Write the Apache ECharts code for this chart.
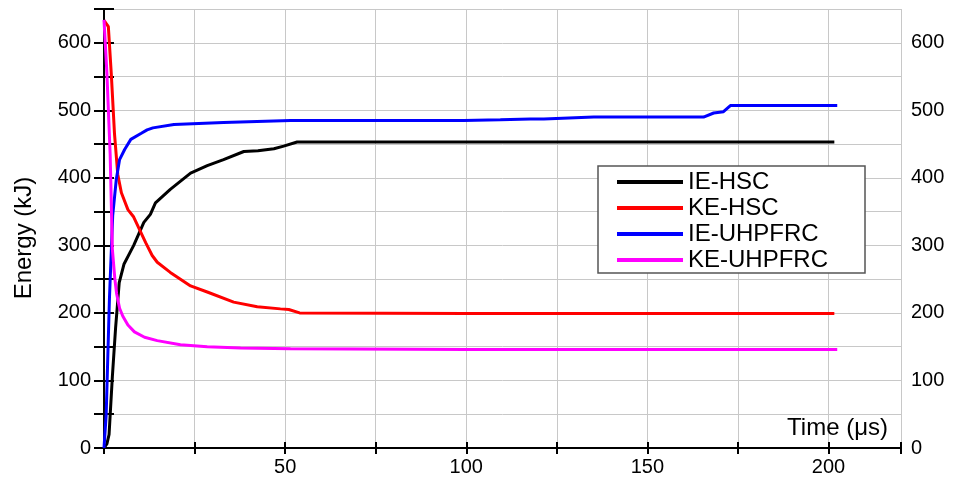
<!DOCTYPE html>
<html>
<head>
<meta charset="utf-8">
<title>Energy vs Time</title>
<script src="https://cdn.jsdelivr.net/npm/echarts@6/dist/echarts.min.js"></script>
<style>
  html, body { margin: 0; padding: 0; background: #fff; }
  #chart { width: 956px; height: 477px; }
</style>
</head>
<body>
<div id="chart"></div>
<script>
// series names
const seriesNames = ['IE-HSC', 'KE-HSC', 'IE-UHPFRC', 'KE-UHPFRC'];

// IE-HSC (internal energy, HSC slab)
const ieHscTime   = [0, 0.8, 1.4, 2.3, 3.2, 4.2, 5.5, 8.2, 11, 12.8, 14.2, 18.3, 23.9, 28.5, 33, 38.6, 42.5, 46.9, 49.6, 53.3, 100, 150, 201.6];
const ieHscEnergy = [0, 6, 20, 105, 178, 245, 272, 300, 334, 346, 363, 383, 407, 418, 427, 439, 440, 443, 447, 453, 453, 453, 453];

// KE-HSC (kinetic energy, HSC slab)
const keHscTime   = [0, 1.2, 2.0, 2.9, 3.8, 4.8, 6.6, 8.2, 11.5, 13.3, 14.7, 18.3, 23.9, 28.5, 35.8, 42.3, 48.7, 51, 54, 100, 150, 201.6];
const keHscEnergy = [633, 624, 555, 465, 405, 378, 353, 342, 304, 285, 275, 260, 240, 231, 216, 209, 206, 205, 200, 199, 199, 199];

// IE-UHPFRC
const ieUhpTime   = [0, 0.6, 1.5, 2.4, 3.4, 4.3, 5.7, 7.4, 10.3, 11.9, 13.5, 19.3, 33, 51.5, 74.4, 99.3, 109.4, 117.7, 121.4, 135.2, 165.5, 168.3, 171, 172.9, 202.4];
const ieUhpEnergy = [0, 49, 221, 344, 398, 427, 442, 457, 466, 471, 474, 479, 482, 485, 485, 485, 486, 487, 487, 490, 490, 496, 498, 507, 507];

// KE-UHPFRC
const keUhpTime   = [0, 0.8, 1.7, 2.3, 3.0, 3.5, 4.3, 5.2, 6.6, 8.4, 11.2, 14.7, 21.1, 28.5, 37.7, 51.5, 100, 150, 202.4];
const keUhpEnergy = [634, 555, 435, 295, 250, 228, 207, 195, 182, 172, 164, 159, 153, 150, 148, 147, 146, 146, 146];

const seriesColors = ['#000000', '#ff0000', '#0000ff', '#ff00ff'];

// axis ranges / tick steps
const xMin = 0, xMax = 220, xStep = 25, xLabelStep = 50;
const yMin = 0, yMax = 650, yStep = 50, yLabelStep = 100;

const FONT = "'Liberation Sans', Arial, sans-serif";

function zip(ts, es) {
    return ts.map((t, i) => [t, es[i]]);
}

const chart = echarts.init(document.getElementById('chart'), null, { renderer: 'canvas' });

const yLabelFmt = v => (v % yLabelStep === 0 && v <= 600 ? String(v) : '');

const option = {
    animation: false,
    backgroundColor: '#ffffff',
    textStyle: { fontFamily: FONT },
    grid: { left: 104, right: 55, top: 9, bottom: 27 },
    legend: {
        data: seriesNames,
        orient: 'vertical',
        left: 598,
        top: 166,
        icon: 'rect',
        itemWidth: 66,
        itemHeight: 4,
        itemGap: 2,
        padding: [4, 37, 1, 19],
        backgroundColor: '#ffffff',
        borderColor: '#555555',
        borderWidth: 1.5,
        borderRadius: 0,
        textStyle: { fontSize: 24, lineHeight: 24, color: '#000', fontFamily: FONT }
    },
    graphic: [
        {
            type: 'text',
            x: 888, y: 428,
            style: {
                text: 'Time (μs)',
                font: '24px ' + FONT,
                fill: '#000',
                align: 'right',
                verticalAlign: 'middle'
            },
            z: 100
        },
        {
            type: 'text',
            x: 24, y: 238,
            rotation: Math.PI / 2,
            style: {
                text: 'Energy (kJ)',
                font: '24px ' + FONT,
                fill: '#000',
                align: 'center',
                verticalAlign: 'middle'
            }
        }
    ],
    xAxis: [
        {
            type: 'value',
            position: 'bottom',
            min: xMin, max: xMax, interval: xStep,
            axisLine: { onZero: false, lineStyle: { color: '#000', width: 2 } },
            axisTick: { inside: true, length: 6, lineStyle: { color: '#000', width: 2 } },
            axisLabel: {
                margin: 9, fontSize: 20, color: '#000', fontFamily: FONT,
                formatter: v => (v > 0 && v % xLabelStep === 0 ? String(v) : '')
            },
            splitLine: { show: true, lineStyle: { color: '#c8c8c8', width: 1 } }
        },
        {
            type: 'value',
            position: 'top',
            min: xMin, max: xMax, interval: xStep,
            axisLine: { lineStyle: { color: '#000', width: 2 } },
            axisTick: { inside: true, length: 6, lineStyle: { color: '#000', width: 2 } },
            axisLabel: { show: false },
            splitLine: { show: false }
        }
    ],
    yAxis: [
        {
            type: 'value',
            position: 'left',
            min: yMin, max: yMax, interval: yStep,
            axisLine: { show: true, onZero: false, lineStyle: { color: '#000', width: 2 } },
            axisTick: { show: true, inside: true, length: 10, lineStyle: { color: '#000', width: 2 } },
            axisLabel: { margin: 13, fontSize: 20, color: '#000', fontFamily: FONT, formatter: yLabelFmt },
            splitLine: { show: true, lineStyle: { color: '#c8c8c8', width: 1 } }
        },
        {
            type: 'value',
            position: 'right',
            min: yMin, max: yMax, interval: yStep,
            axisLine: { show: true, lineStyle: { color: '#000', width: 2 } },
            axisTick: { show: true, inside: true, length: 10, lineStyle: { color: '#000', width: 2 } },
            axisLabel: { margin: 10, fontSize: 20, color: '#000', fontFamily: FONT, formatter: yLabelFmt },
            splitLine: { show: false }
        }
    ],
    series: [
        [ieHscTime, ieHscEnergy],
        [keHscTime, keHscEnergy],
        [ieUhpTime, ieUhpEnergy],
        [keUhpTime, keUhpEnergy]
    ].map((pair, i) => ({
        name: seriesNames[i],
        type: 'line',
        data: zip(pair[0], pair[1]),
        showSymbol: false,
        symbol: 'none',
        lineStyle: { color: seriesColors[i], width: 3 },
        itemStyle: { color: seriesColors[i] },
        z: 2 + i
    }))
};

chart.setOption(option);
</script>
</body>
</html>
